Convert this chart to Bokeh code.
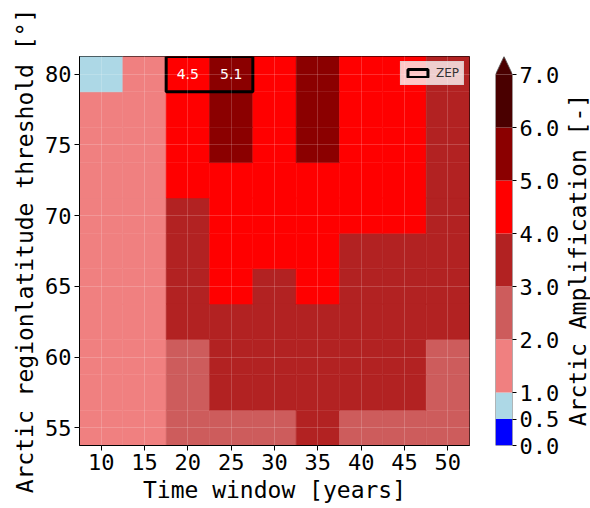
import numpy as np
from bokeh.plotting import figure
from bokeh.models import (ColumnDataSource, LinearColorMapper, FixedTicker, Range1d,
                          Legend, LegendItem, PrintfTickFormatter)
from bokeh.layouts import row
from bokeh.transform import transform
from bokeh.core.properties import value
from bokeh.embed import file_html
from bokeh.resources import INLINE

# ---------------- data ----------------
time_windows = [10, 15, 20, 25, 30, 35, 40, 45, 50]
lat_thresholds = [55, 57.5, 60, 62.5, 65, 67.5, 70, 72.5, 75, 77.5, 80]
y_ticks = [55, 60, 65, 70, 75, 80]
# Arctic amplification, one row per latitude threshold (55 ... 80), columns = time windows
aa_55 = [1.5, 1.7, 2.5, 2.8, 2.9, 3.2, 2.9, 2.8, 2.6]
aa_57 = [1.6, 1.8, 2.7, 3.3, 3.3, 3.5, 3.2, 3.1, 2.8]
aa_60 = [1.6, 1.8, 2.9, 3.5, 3.5, 3.7, 3.4, 3.2, 2.9]
aa_62 = [1.7, 1.9, 3.3, 3.8, 3.7, 3.9, 3.6, 3.5, 3.3]
aa_65 = [1.7, 1.9, 3.6, 4.1, 3.9, 4.2, 3.8, 3.7, 3.5]
aa_67 = [1.7, 1.9, 3.8, 4.3, 4.2, 4.4, 3.9, 3.9, 3.6]
aa_70 = [1.6, 1.9, 3.9, 4.5, 4.5, 4.6, 4.3, 4.1, 3.7]
aa_72 = [1.6, 1.8, 4.3, 4.8, 4.7, 4.9, 4.5, 4.2, 3.8]
aa_75 = [1.5, 1.8, 4.4, 5.2, 4.9, 5.1, 4.6, 4.3, 3.8]
aa_77 = [1.4, 1.7, 4.6, 5.3, 4.8, 5.3, 4.7, 4.4, 3.9]
aa_80 = [0.8, 1.6, 4.5, 5.1, 4.7, 5.2, 4.6, 4.3, 3.8]
aa_rows = [aa_55, aa_57, aa_60, aa_62, aa_65, aa_67, aa_70, aa_72, aa_75, aa_77, aa_80]

bounds = [0, 0.5, 1, 2, 3, 4, 5, 6, 7]
class_colors = ["#0000ff", "#add8e6", "#f08080", "#cd5c5c", "#b22222",
                "#ff0000", "#8b0000", "#4a0000"]
over_color = "#4a0000"
cbar_label = "Arctic Amplification [-]"

zep_windows = [20, 25]
zep_lat = 80
zep_labels = ["4.5", "5.1"]

# ---------------- derived ----------------
dx = time_windows[1] - time_windows[0]
dy = lat_thresholds[1] - lat_thresholds[0]
xs, ys, vs = [], [], []
for lat, vals in zip(lat_thresholds, aa_rows):
    for tw, v in zip(time_windows, vals):
        xs.append(tw); ys.append(lat); vs.append(v)
src = ColumnDataSource(dict(x=xs, y=ys, v=vs))

step = 0.5
palette = []
for lo, hi, c in zip(bounds[:-1], bounds[1:], class_colors):
    palette += [c] * int(round((hi - lo) / step))
mapper = LinearColorMapper(palette=palette, low=bounds[0], high=bounds[-1], high_color=over_color)

MONO = "DejaVu Sans Mono"

p = figure(width=480, height=508,
           x_range=Range1d(time_windows[0] - dx / 2, time_windows[-1] + dx / 2),
           y_range=Range1d(lat_thresholds[0] - dy / 2, lat_thresholds[-1] + dy / 2),
           output_backend="svg", toolbar_location=None,
           min_border_left=79, min_border_right=11, min_border_top=56, min_border_bottom=63)
p.outline_line_color = "black"
p.outline_line_width = 1

p.rect(x="x", y="y", width=dx, height=dy, source=src,
       fill_color=transform("v", mapper), line_color=transform("v", mapper), line_width=0.5)

zr = p.quad(left=[min(zep_windows) - dx / 2], right=[max(zep_windows) + dx / 2],
            bottom=[zep_lat - dy / 2], top=[zep_lat + dy / 2],
            fill_alpha=0, line_color="black", line_width=3)

p.text(x=zep_windows, y=[zep_lat] * len(zep_windows), text=zep_labels,
       text_color="white", text_font=value("DejaVu Sans"), text_font_size="14px",
       text_align="center", text_baseline="middle")

legend = Legend(items=[LegendItem(label="ZEP", renderers=[zr])], location="top_right")
legend.background_fill_color = "white"
legend.background_fill_alpha = 0.78
legend.border_line_color = "#cccccc"
legend.label_text_font = "DejaVu Sans"
legend.label_text_font_size = "12px"
legend.label_text_color = "#333333"
legend.glyph_width = 25
legend.glyph_height = 10
legend.label_height = 12
legend.label_standoff = 6
legend.padding = 4
legend.margin = 5
p.add_layout(legend)

p.grid.grid_line_color = "white"
p.grid.grid_line_alpha = 0.18
p.grid.level = "overlay"

p.xaxis.ticker = FixedTicker(ticks=time_windows)
p.yaxis.ticker = FixedTicker(ticks=y_ticks)
p.xaxis.axis_label = "Time window [years]"
p.yaxis.axis_label = "Arctic regionlatitude threshold [°]"
for ax in (p.xaxis, p.yaxis):
    ax.major_label_text_font = MONO
    ax.major_label_text_font_size = "22px"
    ax.major_label_text_color = "black"
    ax.axis_label_text_font = MONO
    ax.axis_label_text_font_size = "23px"
    ax.axis_label_text_font_style = "normal"
    ax.axis_label_text_color = "black"
    ax.axis_label_standoff = 4
    ax.major_label_standoff = 3
    ax.major_tick_out = 5
    ax.major_tick_in = 0
    ax.minor_tick_line_color = None
    ax.axis_line_color = "black"
    ax.major_tick_line_color = "black"

# ---------------- colour bar ----------------
ext = 0.34
cb_yrange = (bounds[0], bounds[-1] + ext)
cb = figure(width=82, height=508, x_range=Range1d(0, 1), y_range=Range1d(*cb_yrange),
            x_axis_location=None, y_axis_location="right",
            output_backend="svg", toolbar_location=None,
            min_border_left=15, min_border_right=47, min_border_top=55, min_border_bottom=63)
cb.outline_line_color = None
cb.grid.visible = False
cb.quad(left=0, right=1, bottom=bounds[:-1], top=bounds[1:], fill_color=class_colors, line_color=None)
cb.patch([0, 0.5, 1], [bounds[-1], bounds[-1] + ext, bounds[-1]], fill_color=over_color, line_color=None)
cb.line([0, 0, 0.5, 1, 1, 0], [bounds[0], bounds[-1], bounds[-1] + ext, bounds[-1], bounds[0], bounds[0]],
        line_color="#555555", line_width=0.8)
ya = cb.yaxis[0]
ya.ticker = FixedTicker(ticks=bounds)
ya.formatter = PrintfTickFormatter(format="%.1f")
ya.major_label_text_font = MONO
ya.major_label_text_font_size = "22px"
ya.major_label_text_color = "black"
ya.major_label_standoff = 3
ya.major_tick_out = 4
ya.major_tick_in = 0
ya.minor_tick_line_color = None
ya.axis_line_color = None
ya.major_tick_line_color = "black"

# colour-bar label, in a narrow strip of its own (reads bottom to top)
lab = figure(width=28, height=508, x_range=Range1d(0, 1), y_range=Range1d(*cb_yrange),
             x_axis_location=None, y_axis_location=None,
             output_backend="svg", toolbar_location=None,
             min_border_left=0, min_border_right=0, min_border_top=55, min_border_bottom=63)
lab.outline_line_color = None
lab.grid.visible = False
lab.text(x=[0.55], y=[(bounds[0] + bounds[-1]) / 2], text=[cbar_label], angle=np.pi / 2,
         text_font=value(MONO), text_font_size="23px", text_color="black",
         text_align="center", text_baseline="middle")

layout = row(p, cb, lab)
open("out.html", "w").write(file_html(layout, INLINE))
